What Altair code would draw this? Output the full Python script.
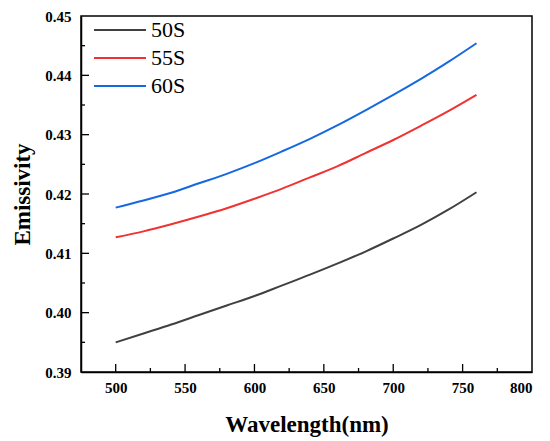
import altair as alt
import pandas as pd

wavelength = [500, 520, 540, 560, 580, 600, 620, 640, 660, 680, 700, 720, 740, 760]
s50 = [0.3950, 0.3965, 0.3980, 0.3996, 0.4012, 0.4028, 0.4046, 0.4064, 0.4083, 0.4103, 0.4125, 0.4148, 0.4174, 0.4203]
s55 = [0.4127, 0.4137, 0.4149, 0.4162, 0.4176, 0.4192, 0.4209, 0.4228, 0.4247, 0.4269, 0.4291, 0.4315, 0.4340, 0.4367]
s60 = [0.4177, 0.4189, 0.4202, 0.4218, 0.4234, 0.4252, 0.4272, 0.4293, 0.4316, 0.4341, 0.4367, 0.4394, 0.4423, 0.4454]
series_names = ["50S", "55S", "60S"]
series_colors = ["#404040", "#f03232", "#1569e0"]

x_labels = [500, 550, 600, 650, 700, 750, 800]
y_labels = [0.39, 0.40, 0.41, 0.42, 0.43, 0.44, 0.45]
x_major = [500, 550, 600, 650, 700, 750]
x_minor = [525, 575, 625, 675, 725, 775]
y_major = [0.40, 0.41, 0.42, 0.43, 0.44]
y_minor = [0.395, 0.405, 0.415, 0.425, 0.435, 0.445]

rows = []
for name, vals in zip(series_names, [s50, s55, s60]):
    for w, v in zip(wavelength, vals):
        rows.append({"Wavelength": w, "Emissivity": v, "Series": name})
df = pd.DataFrame(rows)

W, H = 451, 356
FONT = "Liberation Serif"

xscale = alt.Scale(domain=[475, 800], nice=False, zero=False)
yscale = alt.Scale(domain=[0.39, 0.45], nice=False, zero=False)
common = dict(labelFont=FONT, labelFontSize=15, labelFontWeight="bold", labelColor="black",
              titleFont=FONT, titleFontSize=23, titleFontWeight="bold", titleColor="black",
              ticks=False, grid=False, domainColor="black", domainWidth=1.5)
xaxis = alt.Axis(values=x_labels, format="d", labelPadding=8, titlePadding=18, **common)
yaxis = alt.Axis(values=y_labels, format=".2f", labelPadding=10, titlePadding=10, **common)
XT = "Wavelength(nm)"
YT = "Emissivity"

lines = alt.Chart(df).mark_line(strokeWidth=2, interpolate="monotone").encode(
    x=alt.X("Wavelength:Q", scale=xscale, title=XT, axis=xaxis),
    y=alt.Y("Emissivity:Q", scale=yscale, title=YT, axis=yaxis),
    color=alt.Color("Series:N", scale=alt.Scale(domain=series_names, range=series_colors),
                    legend=alt.Legend(title=None, orient="none", legendX=12, legendY=4,
                                      symbolType="stroke", symbolSize=2704, symbolStrokeWidth=2,
                                      labelFont=FONT, labelFontSize=22, labelFontWeight="normal",
                                      labelColor="black",
                                      clipHeight=20, rowPadding=6, labelOffset=4, padding=0)),
)

def xticks(vals, length):
    d = pd.DataFrame({"v": vals})
    return alt.Chart(d).mark_rule(color="black", strokeWidth=1.3).encode(
        x=alt.X("v:Q", scale=xscale, title=XT, axis=xaxis),
        y=alt.value(H), y2=alt.value(H - length))

def yticks(vals, length):
    d = pd.DataFrame({"v": vals})
    return alt.Chart(d).mark_rule(color="black", strokeWidth=1.3).encode(
        y=alt.Y("v:Q", scale=yscale, title=YT, axis=yaxis),
        x=alt.value(0), x2=alt.value(length))

chart = alt.layer(
    lines, xticks(x_major, 8), xticks(x_minor, 4), yticks(y_major, 8), yticks(y_minor, 4)
).properties(
    width=W, height=H,
    autosize=alt.AutoSizeParams(type="none"),
    padding={"left": 73, "top": 8, "right": 10, "bottom": 75},
).configure_view(
    stroke="black", strokeWidth=1.5
)

chart.save("out.html", embed_options={"renderer": "svg", "actions": False})
